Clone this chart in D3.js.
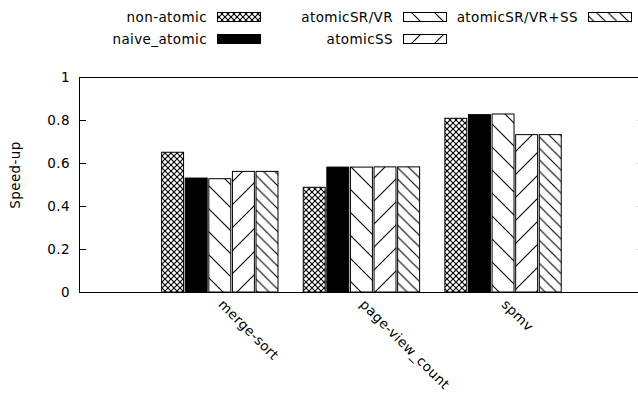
<html>
<head>
	<script src="https://d3js.org/d3.v7.min.js"></script>
	<style>
		body { margin: 0; background: #fff; overflow: hidden; }
		svg { display: block; }
		text { font-family: "DejaVu Sans", sans-serif; font-size: 13.5px; letter-spacing: 0.4px; fill: #000; }
	</style>
</head>
<body>
	<script>
		var categories = ["merge-sort", "page-view_count", "spmv"];
		var seriesNames = ["non-atomic", "naive_atomic", "atomicSR/VR", "atomicSS", "atomicSR/VR+SS"];
		var nonAtomic = [0.65, 0.487, 0.808];
		var naiveAtomic = [0.53, 0.581, 0.825];
		var atomicSRVR = [0.527, 0.581, 0.828];
		var atomicSS = [0.561, 0.582, 0.732];
		var atomicSRVRSS = [0.561, 0.582, 0.732];
		var yTicks = [0, 0.2, 0.4, 0.6, 0.8, 1];

		var seriesValues = [nonAtomic, naiveAtomic, atomicSRVR, atomicSS, atomicSRVRSS];
		var fills = ["url(#cross)", "#000", "url(#bslash)", "url(#fslash)", "url(#bslashDense)"];

		var outerWidth = 638;
		var outerHeight = 393;
		var plotLeft = 79, plotRight = 645.5, plotTop = 77, plotBottom = 292;

		var svg = d3.select("body").append("svg")
					.attr("width", outerWidth)
					.attr("height", outerHeight);

		svg.append("rect").attr("width", outerWidth).attr("height", outerHeight).attr("fill", "#fff");

		// fill patterns
		var defs = svg.append("defs");
		function addPattern(id, size, lines) {
			var p = defs.append("pattern")
				.attr("id", id)
				.attr("patternUnits", "userSpaceOnUse")
				.attr("width", size).attr("height", size);
			p.append("rect").attr("width", size).attr("height", size).attr("fill", "#fff");
			lines.forEach(function(l) {
				p.append("line")
					.attr("x1", l[0] * size).attr("y1", l[1] * size)
					.attr("x2", l[2] * size).attr("y2", l[3] * size)
					.attr("stroke", "#000").attr("stroke-width", 1.1);
			});
		}
		addPattern("cross", 6, [[0, 0, 1, 1], [0, 1, 1, 0]]);
		addPattern("bslash", 23, [[0, 0, 1, 1], [-0.5, 0.5, 0.5, 1.5], [0.5, -0.5, 1.5, 0.5]]);
		addPattern("fslash", 23, [[0, 1, 1, 0], [-0.5, 0.5, 0.5, -0.5], [0.5, 1.5, 1.5, 0.5]]);
		addPattern("bslashDense", 11.5, [[0, 0, 1, 1], [-0.5, 0.5, 0.5, 1.5], [0.5, -0.5, 1.5, 0.5]]);

		var xScale = d3.scaleLinear().domain([-1, 3]).range([plotLeft, plotRight]);
		var yScale = d3.scaleLinear().domain([0, 1]).range([plotBottom, plotTop]);

		var nSeries = seriesNames.length;
		var slot = 1 / (nSeries + 1);
		var barFrac = 0.93;

		var data = [];
		seriesValues.forEach(function(vals, s) {
			vals.forEach(function(v, c) {
				data.push({ cat: c, s: s, value: v });
			});
		});

		var plot = svg.append("g");
		plot.selectAll("rect.bar").data(data)
			.enter().append("rect")
			.attr("class", "bar")
			.attr("x", function(d) { return xScale(d.cat + (d.s - nSeries / 2) * slot); })
			.attr("width", function(d) { return xScale(slot * barFrac) - xScale(0); })
			.attr("y", function(d) { return yScale(d.value); })
			.attr("height", function(d) { return yScale(0) - yScale(d.value); })
			.attr("fill", function(d) { return fills[d.s]; })
			.attr("stroke", "#000")
			.attr("stroke-width", 1);

		// y axis, ticks inward
		var yAxis = d3.axisLeft(yScale).tickValues(yTicks).tickSize(-7).tickPadding(9)
			.tickFormat(function(d) { return d3.format("")(d); });
		var yAxisG = svg.append("g").attr("transform", "translate(" + plotLeft + ",0)").call(yAxis);
		yAxisG.attr("font-size", null).attr("font-family", null);
		yAxisG.select(".domain").remove();
		yAxisG.selectAll("line").attr("stroke", "#000");

		// mirrored ticks on the right border (mostly outside the picture)
		var yAxisR = d3.axisRight(yScale).tickValues(yTicks.slice(1, 5)).tickSize(-8).tickFormat("");
		var yAxisRG = svg.append("g").attr("transform", "translate(" + plotRight + ",0)").call(yAxisR);
		yAxisRG.select(".domain").remove();
		yAxisRG.selectAll("line").attr("stroke", "#999");

		// border: left, bottom, top (right side falls outside the picture)
		var border = d3.path();
		border.moveTo(plotRight, plotTop + 0.5);
		border.lineTo(plotLeft + 0.5, plotTop + 0.5);
		border.lineTo(plotLeft + 0.5, plotBottom + 0.5);
		border.lineTo(plotRight, plotBottom + 0.5);
		svg.append("path").attr("d", border.toString())
			.attr("fill", "none").attr("stroke", "#000").attr("stroke-width", 1);

		// category labels, rotated
		svg.selectAll("text.cat").data(categories)
			.enter().append("text")
			.attr("class", "cat")
			.attr("transform", function(d, i) { return "translate(" + (xScale(i) + 4) + ",298) rotate(45)"; })
			.attr("dy", "0.75em")
			.text(function(d) { return d; });

		svg.append("text")
			.attr("transform", "translate(20,175) rotate(-90)")
			.attr("text-anchor", "middle")
			.text("Speed-up");

		// legend: two rows, filled column by column
		var legendRight = [207, 393, 578];
		var legend = svg.selectAll("g.legend").data(seriesNames)
			.enter().append("g")
			.attr("class", "legend")
			.attr("transform", function(d, i) {
				return "translate(" + legendRight[Math.floor(i / 2)] + "," + (17 + (i % 2) * 22) + ")";
			});
		legend.append("text")
			.attr("text-anchor", "end")
			.attr("dy", "0.35em")
			.text(function(d) { return d; });
		legend.append("rect")
			.attr("x", 10.5).attr("y", -4.5)
			.attr("width", 43).attr("height", 9)
			.attr("fill", function(d, i) { return fills[i]; })
			.attr("stroke", "#000");
	</script>
</body>
</html>
